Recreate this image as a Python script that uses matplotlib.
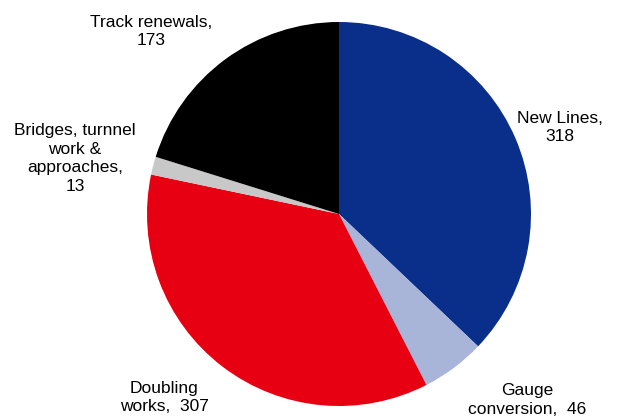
import matplotlib
matplotlib.use("Agg")
import matplotlib.pyplot as plt

# slices, clockwise from 12 o'clock
labels = ["New Lines,\n318", "Gauge\nconversion,  46", "Doubling\nworks,  307",
          "Bridges, turnnel\nwork &\napproaches,\n13", "Track renewals,\n173"]
values = [318, 46, 307, 13, 173]
colors = ["#0a2f8a", "#a8b4d8", "#e60012", "#c8c8c8", "#000000"]

# where each label sits (pie radius = 1)
label_pos = [(1.15, 0.45), (0.98, -0.97), (-0.91, -0.955), (-1.375, 0.29), (-0.98, 0.95)]

plt.rcParams['font.family'] = ['Liberation Sans', 'DejaVu Sans']

fig = plt.figure(figsize=(6.34, 4.16), dpi=100)
cx, cy, r = 339, 214, 192
ax = fig.add_axes([(cx - r) / 634, (416 - cy - r) / 416, 2 * r / 634, 2 * r / 416])
ax.pie(values, colors=colors, startangle=90, counterclock=False, radius=1,
       wedgeprops=dict(linewidth=0))
ax.set_xlim(-1, 1)
ax.set_ylim(-1, 1)
ax.set_aspect('equal')
ax.axis('off')

for lab, (x, y) in zip(labels, label_pos):
    ax.text(x, y, lab, ha='center', va='center', fontsize=12.5, linespacing=1.3)

fig.savefig("out.png", dpi=100)
